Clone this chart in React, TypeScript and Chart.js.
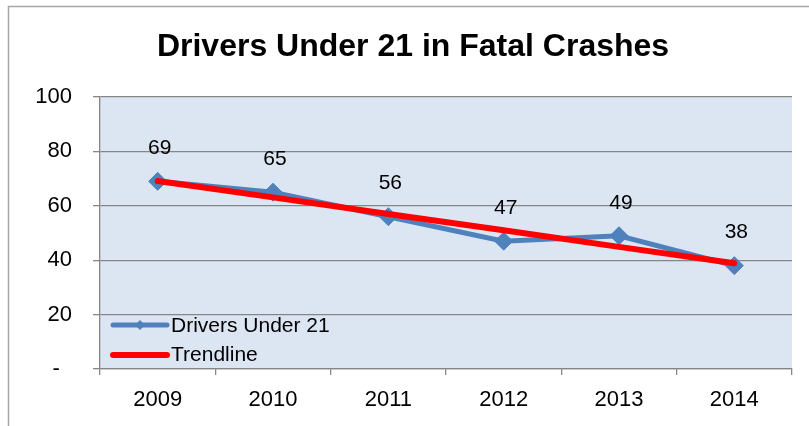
import React, { useEffect, useRef } from "react";
import { Chart, registerables } from "chart.js";

Chart.register(...registerables);

const chartTitle = "Drivers Under 21 in Fatal Crashes";
const years = ["2009", "2010", "2011", "2012", "2013", "2014"];
const drivers = [69, 65, 56, 47, 49, 38];
const trend = [69.1, 63.1, 57.0, 51.0, 44.9, 38.9];
const seriesNames = ["Drivers Under 21", "Trendline"];
const yMin = 0;
const yMax = 100;
const yStep = 20;

const FONT = "'Liberation Sans', Arial, sans-serif";
const BLUE = "#4f81bd";
const RED = "#ff0000";
const GRID = "#868686";
const PLOT_BG = "#dce6f2";

const decorPlugin = {
  id: "decor",
  beforeDraw(chart: any) {
    const { ctx, chartArea, width, height } = chart;
    ctx.save();
    ctx.fillStyle = "#ffffff";
    ctx.fillRect(0, 0, width, height);
    ctx.fillStyle = PLOT_BG;
    ctx.fillRect(chartArea.left, chartArea.top, chartArea.right - chartArea.left, chartArea.bottom - chartArea.top);
    ctx.strokeStyle = "#a6a6a6";
    ctx.lineWidth = 1.5;
    ctx.strokeRect(8.5, 6.5, width + 20, height + 20);
    ctx.restore();
  },
  afterDatasetsDraw(chart: any) {
    const { ctx } = chart;
    ctx.save();
    // data labels
    const meta = chart.getDatasetMeta(0);
    ctx.fillStyle = "#000";
    ctx.font = `21px ${FONT}`;
    ctx.textAlign = "center";
    ctx.textBaseline = "middle";
    meta.data.forEach((el: any, i: number) => {
      ctx.fillText(String(drivers[i]), el.x + 2, el.y - 33);
    });

    // title
    ctx.font = `bold 32px ${FONT}`;
    ctx.textAlign = "center";
    ctx.textBaseline = "alphabetic";
    ctx.fillText(chartTitle, 413, 56);

    // legend inside plot area
    const lx0 = chart.chartArea.left + 13;
    const lx1 = chart.chartArea.left + 67;
    const y1 = 325;
    const y2 = 355;
    ctx.lineCap = "round";
    ctx.lineWidth = 5;
    ctx.strokeStyle = BLUE;
    ctx.beginPath();
    ctx.moveTo(lx0, y1);
    ctx.lineTo(lx1, y1);
    ctx.stroke();
    const cx = (lx0 + lx1) / 2;
    ctx.fillStyle = BLUE;
    ctx.beginPath();
    ctx.moveTo(cx, y1 - 5);
    ctx.lineTo(cx + 5, y1);
    ctx.lineTo(cx, y1 + 5);
    ctx.lineTo(cx - 5, y1);
    ctx.closePath();
    ctx.fill();
    ctx.strokeStyle = RED;
    ctx.lineWidth = 6;
    ctx.beginPath();
    ctx.moveTo(lx0, y2);
    ctx.lineTo(lx1, y2);
    ctx.stroke();
    ctx.fillStyle = "#000";
    ctx.font = `21px ${FONT}`;
    ctx.textAlign = "left";
    ctx.textBaseline = "middle";
    ctx.fillText(seriesNames[0], lx1 + 4, y1 + 1);
    ctx.fillText(seriesNames[1], lx1 + 4, y2);
    ctx.restore();
  },
};

export default function App() {
  const ref = useRef<HTMLCanvasElement | null>(null);
  useEffect(() => {
    if (!ref.current) return;
    const chart = new Chart(ref.current, {
      type: "line",
      data: {
        labels: years,
        datasets: [
          {
            label: seriesNames[0],
            data: drivers,
            borderColor: BLUE,
            backgroundColor: BLUE,
            borderWidth: 5,
            pointStyle: "rectRot",
            pointRadius: 9,
            pointBackgroundColor: BLUE,
            pointBorderColor: BLUE,
            pointBorderWidth: 1,
            tension: 0,
            order: 1,
          },
          {
            label: seriesNames[1],
            data: trend,
            borderColor: RED,
            backgroundColor: RED,
            borderWidth: 6,
            borderCapStyle: "round",
            pointRadius: 0,
            tension: 0,
            order: 0,
          },
        ],
      },
      options: {
        responsive: false,
        animation: false,
        devicePixelRatio: 1,
        layout: { padding: { top: 97, right: 17, left: 0, bottom: 0 } },
        plugins: {
          legend: { display: false },
          title: { display: false },
          tooltip: { enabled: false },
        },
        scales: {
          x: {
            type: "category",
            offset: true,
            grid: {
              offset: true,
              drawOnChartArea: false,
              drawTicks: true,
              tickLength: 6,
              color: GRID,
              lineWidth: 1.3,
            },
            border: { display: true, color: GRID, width: 1.3 },
            ticks: {
              color: "#000",
              font: { family: FONT, size: 22 },
              padding: 12,
              maxRotation: 0,
            },
            afterFit(scale: any) {
              scale.height = 57;
            },
          },
          y: {
            min: yMin,
            max: yMax,
            grid: {
              color: GRID,
              lineWidth: 1.3,
              drawTicks: true,
              tickLength: 7,
            },
            border: { display: true, color: GRID, width: 1.3 },
            ticks: {
              stepSize: yStep,
              color: "#000",
              font: { family: FONT, size: 22 },
              padding: 21,
              callback: (v: any) => (Number(v) === 0 ? "-  " : String(v)),
            },
            afterFit(scale: any) {
              scale.width = 100;
            },
          },
        },
      },
      plugins: [decorPlugin],
    });
    return () => chart.destroy();
  }, []);

  return (
    <div style={{ position: "absolute", left: 0, top: 0, width: 809, height: 426 }}>
      <canvas ref={ref} width={809} height={426} style={{ width: 809, height: 426, display: "block" }} />
    </div>
  );
}
